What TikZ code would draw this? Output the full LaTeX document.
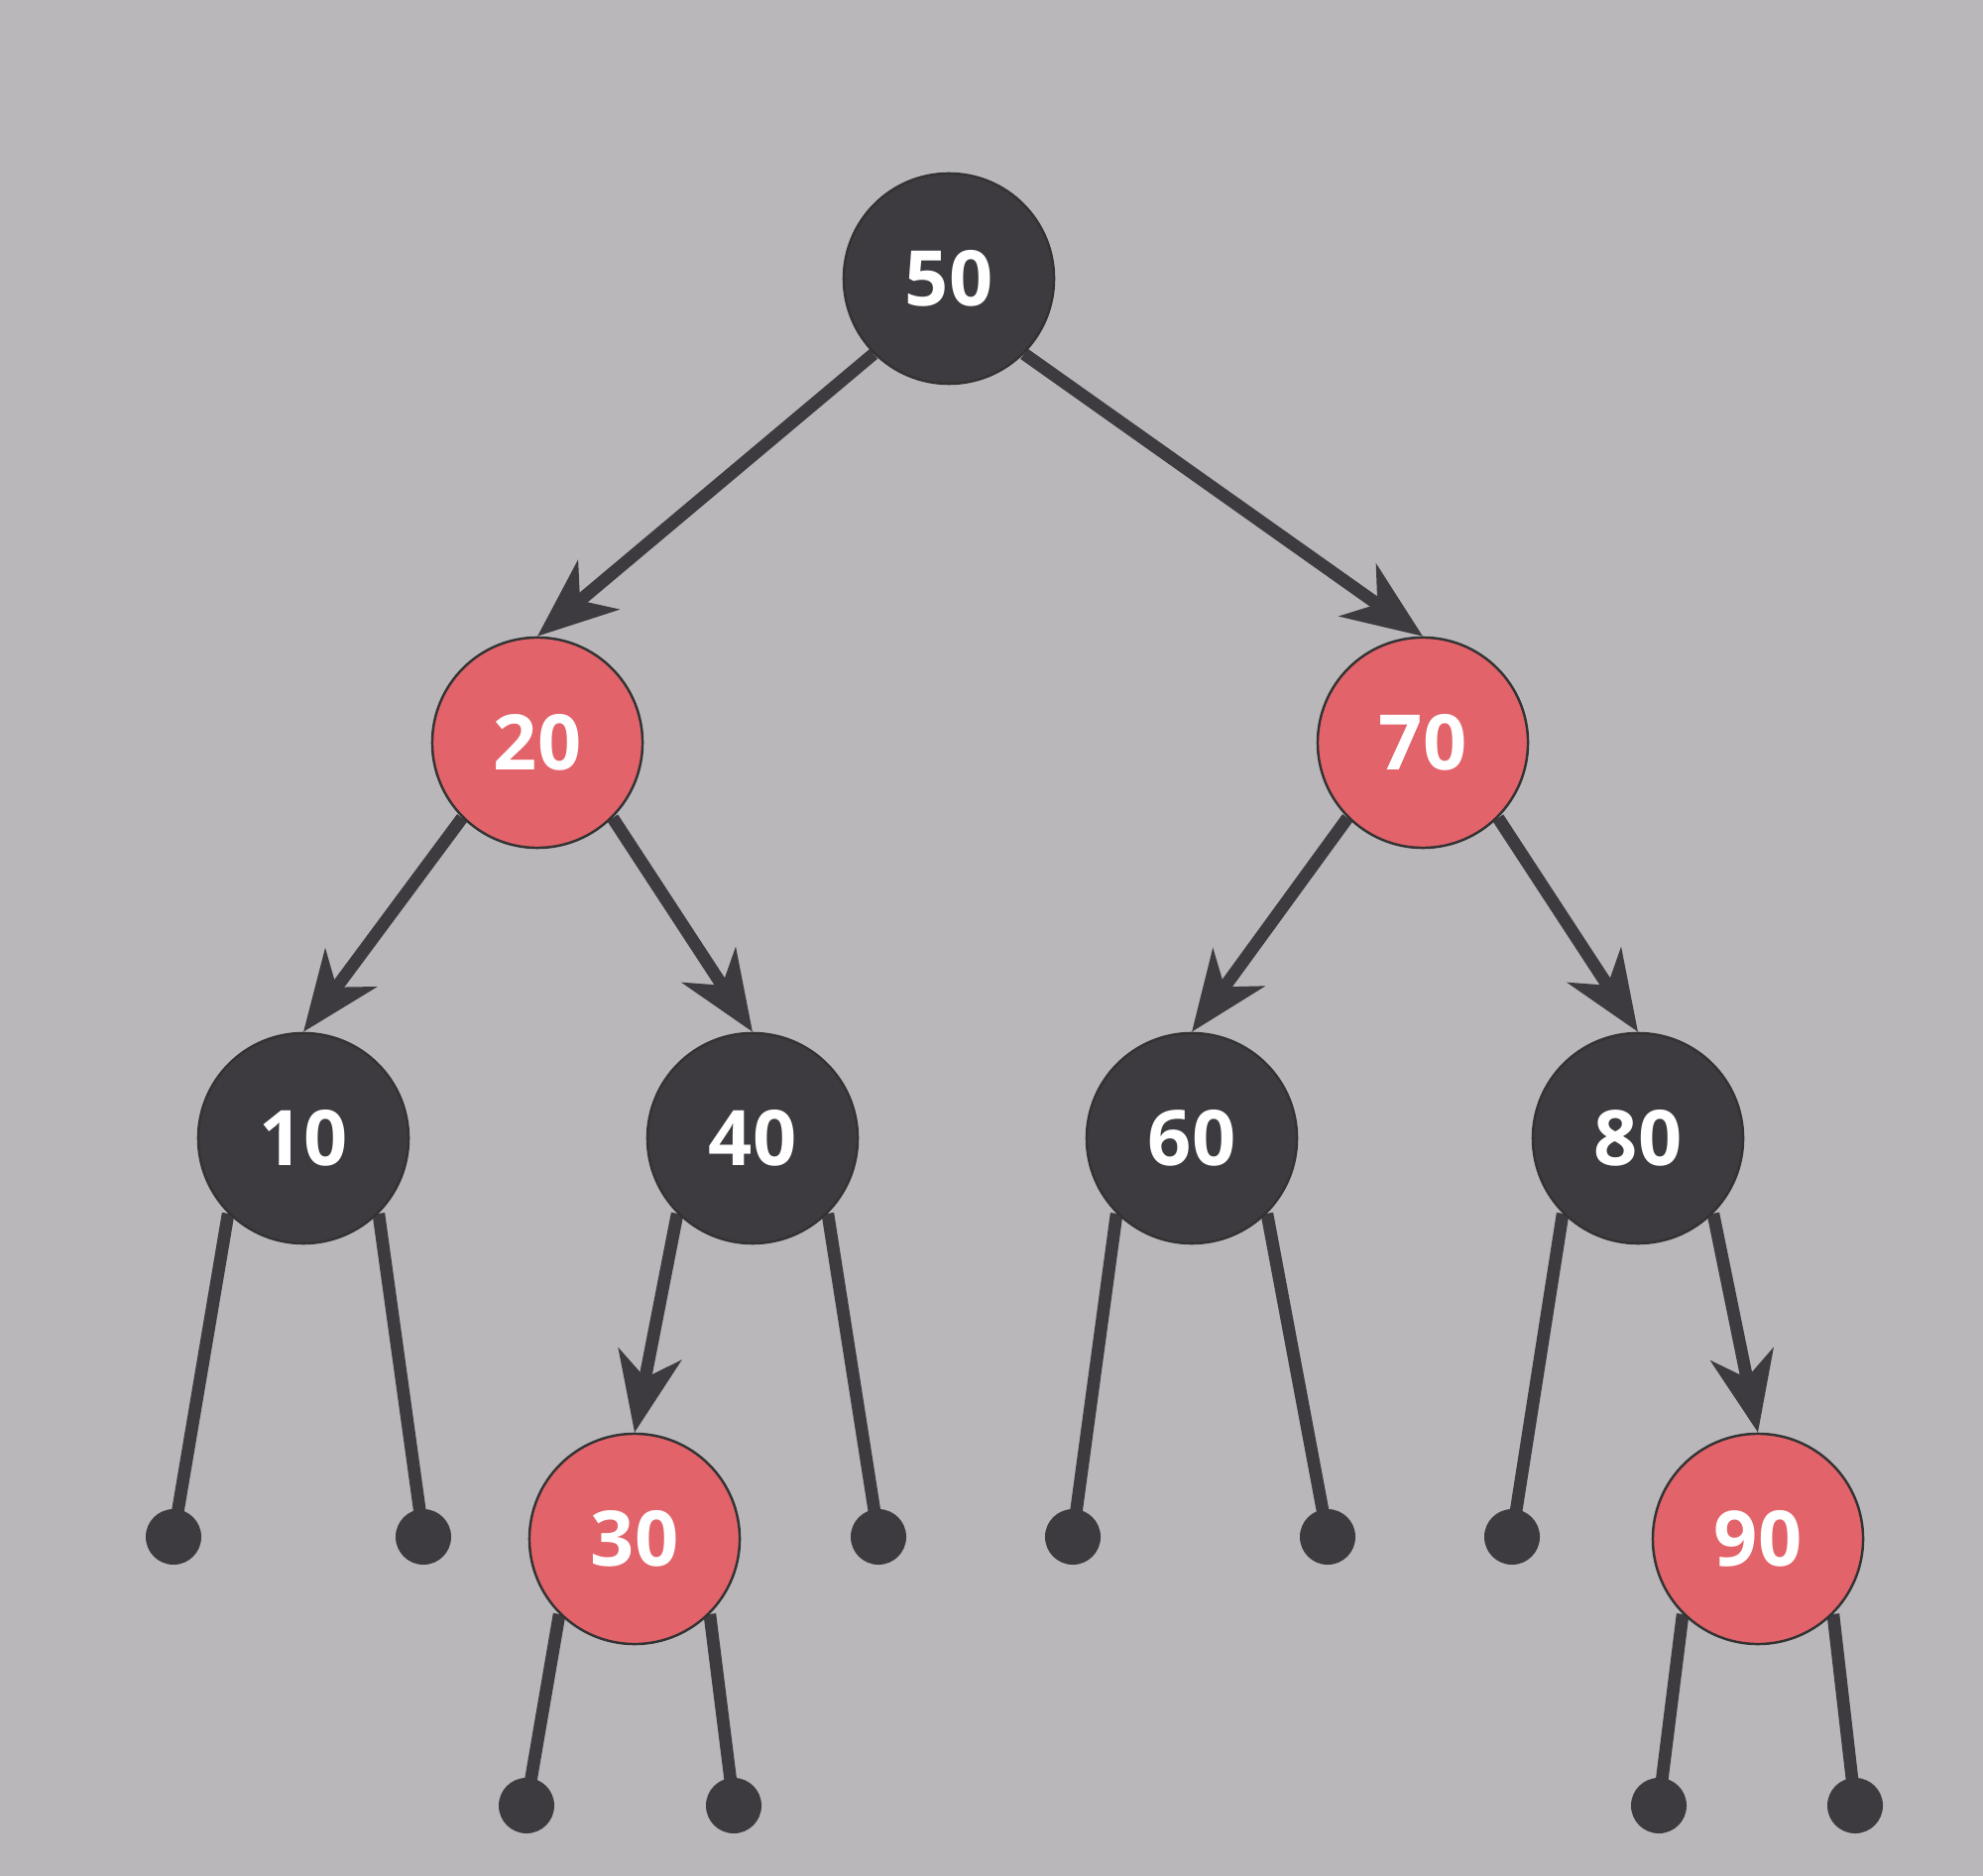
\documentclass[tikz,border=0pt]{standalone}
\usepackage{fontspec}
\setmainfont{Open Sans}
\usetikzlibrary{arrows.meta}
\definecolor{bgc}{HTML}{B9B7BA}
\definecolor{dk}{HTML}{3D3B3F}
\definecolor{rdc}{HTML}{E3636A}
\pgfdeclarelayer{paper}
\pgfdeclarelayer{edges}
\pgfsetlayers{paper,edges,main}
\begin{document}
\begin{tikzpicture}[x=0.01cm,y=-0.01cm,
  tnode/.style={circle, minimum size=2.12cm, inner sep=0pt, draw=black!80, line width=0.7pt, text=white, font=\fontsize{22}{22}\selectfont\bfseries},
  blknode/.style={tnode, fill=dk},
  rednode/.style={tnode, fill=rdc},
  nilnode/.style={circle, fill=dk, minimum size=0.56cm, inner sep=0pt},
  edge/.style={draw=dk, line width=3.6pt},
  arr/.style={edge, -{Stealth[length=0.8cm,width=0.64cm,inset=0.24cm]}}
]
\begin{pgfonlayer}{paper}
\fill[bgc] (0,0) rectangle (2000,1892);
\end{pgfonlayer}
\useasboundingbox (0,0) rectangle (2000,1892);

\node[blknode] (n50) at (957,281) {\raisebox{-0.05cm}{50}};
\node[rednode] (n20) at (542,749) {\raisebox{-0.05cm}{20}};
\node[rednode] (n70) at (1435,749) {\raisebox{-0.05cm}{70}};
\node[blknode] (n10) at (306,1148) {\raisebox{-0.05cm}{10}};
\node[blknode] (n40) at (759,1148) {\raisebox{-0.05cm}{40}};
\node[blknode] (n60) at (1202,1148) {\raisebox{-0.05cm}{60}};
\node[blknode] (n80) at (1652,1148) {\raisebox{-0.05cm}{80}};
\node[rednode] (n30) at (640,1552) {\raisebox{-0.05cm}{30}};
\node[rednode] (n90) at (1773,1552) {\raisebox{-0.05cm}{90}};

\node[nilnode] (l1) at (175,1550) {};
\node[nilnode] (l2) at (427,1550) {};
\node[nilnode] (l3) at (886,1550) {};
\node[nilnode] (l4) at (1082,1550) {};
\node[nilnode] (l5) at (1339,1550) {};
\node[nilnode] (l6) at (1525,1550) {};
\node[nilnode] (l7) at (531,1821) {};
\node[nilnode] (l8) at (740,1821) {};
\node[nilnode] (l9) at (1673,1821) {};
\node[nilnode] (l10) at (1871,1821) {};

\begin{pgfonlayer}{edges}
\draw[arr] (n50.south west) -- (n20.north);
\draw[arr] (n50.south east) -- (n70.north);
\draw[arr] (n20.south west) -- (n10.north);
\draw[arr] (n20.south east) -- (n40.north);
\draw[arr] (n70.south west) -- (n60.north);
\draw[arr] (n70.south east) -- (n80.north);
\draw[arr] (n40.south west) -- (n30.north);
\draw[arr] (n80.south east) -- (n90.north);
\draw[edge] (n10.south west) -- (l1.center);
\draw[edge] (n10.south east) -- (l2.center);
\draw[edge] (n40.south east) -- (l3.center);
\draw[edge] (n60.south west) -- (l4.center);
\draw[edge] (n60.south east) -- (l5.center);
\draw[edge] (n80.south west) -- (l6.center);
\draw[edge] (n30.south west) -- (l7.center);
\draw[edge] (n30.south east) -- (l8.center);
\draw[edge] (n90.south west) -- (l9.center);
\draw[edge] (n90.south east) -- (l10.center);
\end{pgfonlayer}
\end{tikzpicture}
\end{document}
